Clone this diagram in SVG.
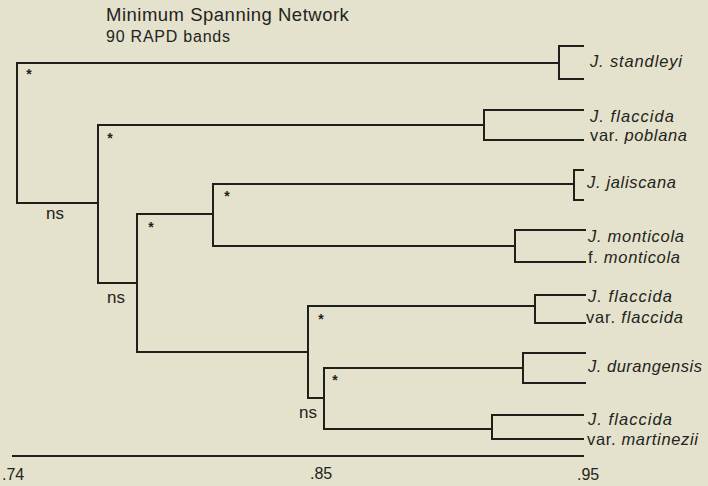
<svg xmlns="http://www.w3.org/2000/svg" width="708" height="486" viewBox="0 0 708 486">
<style>
.bg{fill:#e4e2cc}
.ln{stroke:#1f1f1b;stroke-width:2;fill:none;stroke-linecap:square}
.t{font-family:"Liberation Sans",Arial,sans-serif;fill:#232320}
.lab{font-size:16.5px;font-style:italic}
.up{font-style:normal}
.star{font-family:"Liberation Sans",Arial,sans-serif;font-size:14px;font-weight:bold;fill:#1f1f1b;text-anchor:middle}
.ns{font-size:17px}
.ax{font-size:16px}
</style>
<rect class="bg" x="0" y="0" width="708" height="486"/>
<g id="title">
<text class="t" x="106" y="21" font-size="18.5" letter-spacing="0.5">Minimum Spanning Network</text>
<text class="t" x="106" y="42" font-size="16" textLength="124">90 RAPD bands</text>
</g>
<g id="connectors">
<path class="ln" d="M17,63 V203 H98 M17,63 H559"/>
<path class="ln" d="M98,125 V283 H137 M98,125 H484"/>
<path class="ln" d="M137,214 V352 H308 M137,214 H213"/>
<path class="ln" d="M213,184 V246 H515 M213,184 H574"/>
<path class="ln" d="M308,306 V398 H324 M308,306 H535"/>
<path class="ln" d="M324,368 V429 H492 M324,368 H523"/>
</g>
<g id="node-standleyi">
<path class="ln" d="M583,46 H559 V79 H583"/>
<text class="t lab" x="590" y="67" textLength="92">J. standleyi</text>
</g>
<g id="node-poblana">
<path class="ln" d="M583,110 H484 V140 H583"/>
<text class="t lab" x="590" y="122" textLength="84">J. flaccida</text>
<text class="t lab" x="590" y="141" textLength="97"><tspan class="up">var.</tspan> poblana</text>
</g>
<g id="node-jaliscana">
<path class="ln" d="M583,170 H574 V200 H583"/>
<text class="t lab" x="587" y="188" textLength="89">J. jaliscana</text>
</g>
<g id="node-monticola">
<path class="ln" d="M585,230 H515 V262 H585"/>
<text class="t lab" x="588" y="242" textLength="96">J. monticola</text>
<text class="t lab" x="588" y="263" textLength="92"><tspan class="up">f.</tspan> monticola</text>
</g>
<g id="node-flaccida">
<path class="ln" d="M585,295 H535 V323 H585"/>
<text class="t lab" x="588" y="302" textLength="84">J. flaccida</text>
<text class="t lab" x="586" y="323" textLength="97"><tspan class="up">var.</tspan> flaccida</text>
</g>
<g id="node-durangensis">
<path class="ln" d="M585,353 H523 V383 H585"/>
<text class="t lab" x="588" y="372" textLength="114">J. durangensis</text>
</g>
<g id="node-martinezii">
<path class="ln" d="M583,415 H492 V439 H583"/>
<text class="t lab" x="588" y="425" textLength="84">J. flaccida</text>
<text class="t lab" x="587" y="445" textLength="111"><tspan class="up">var.</tspan> martinezii</text>
</g>
<g id="support">
<text class="star" x="29" y="79">*</text>
<text class="star" x="110" y="143">*</text>
<text class="star" x="151" y="232">*</text>
<text class="star" x="227" y="201">*</text>
<text class="star" x="321" y="324">*</text>
<text class="star" x="335" y="385">*</text>
<text class="t ns" x="46" y="219">ns</text>
<text class="t ns" x="107" y="303">ns</text>
<text class="t ns" x="299" y="418">ns</text>
</g>
<g id="axis">
<path class="ln" d="M13,456 H583"/>
<text class="t ax" x="2" y="480">.74</text>
<text class="t ax" x="310" y="479">.85</text>
<text class="t ax" x="577" y="480">.95</text>
</g>
</svg>
